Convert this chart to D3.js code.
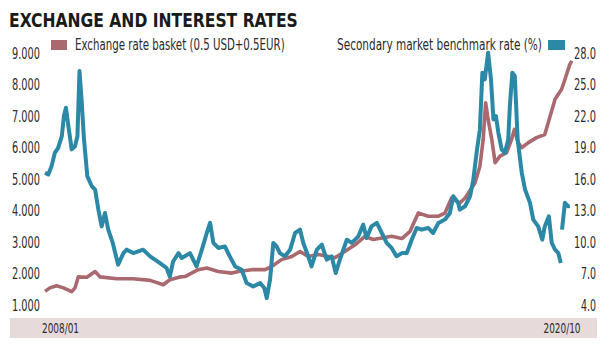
<!DOCTYPE html>
<html lang="en">
<head>
    <meta charset="UTF-8">
    <script src="https://cdn.jsdelivr.net/npm/d3@7"></script>
    <title>Exchange and interest rates</title>
    <style>
        body { margin: 0; background: #fff; }
        text { font-family: 'Liberation Sans Narrow', 'DejaVu Sans Condensed', 'Roboto Condensed', sans-serif; }
    </style>
</head>
<body>
<div id="chart"></div>
<script>
    // exchange rate basket (0.5 USD + 0.5 EUR), left axis
    const basketYears = [2008.00, 2008.12, 2008.28, 2008.45, 2008.65, 2008.73, 2008.81, 2009.02, 2009.22, 2009.34,
        2009.75, 2010.15, 2010.56, 2010.88, 2011.04, 2011.29, 2011.41, 2011.57, 2011.73, 2011.94,
        2012.22, 2012.55, 2012.71, 2013.03, 2013.36, 2013.52, 2013.76, 2014.01, 2014.21, 2014.41,
        2014.66, 2015.06, 2015.30, 2015.55, 2015.79, 2015.99, 2016.20, 2016.44, 2016.69, 2016.89,
        2017.09, 2017.33, 2017.58, 2017.74, 2017.90, 2018.10, 2018.23, 2018.47, 2018.59, 2018.67,
        2018.73, 2018.79, 2018.88, 2018.96, 2019.08, 2019.24, 2019.36, 2019.43, 2019.52, 2019.61,
        2019.77, 2019.97, 2020.17, 2020.30, 2020.42, 2020.58, 2020.66, 2020.78, 2020.83]
    const basketValues = [1.45, 1.56, 1.63, 1.56, 1.44, 1.56, 1.91, 1.90, 2.08, 1.91,
        1.85, 1.85, 1.80, 1.66, 1.82, 1.91, 1.92, 2.03, 2.14, 2.19,
        2.08, 2.03, 2.08, 2.14, 2.14, 2.24, 2.46, 2.56, 2.72, 2.56,
        2.62, 2.52, 2.72, 2.93, 3.20, 3.10, 3.15, 3.20, 3.13, 3.36,
        3.94, 3.84, 3.84, 3.94, 4.42, 4.26, 4.42, 4.90, 5.43, 6.28,
        7.45, 6.92, 6.28, 5.54, 5.75, 5.86, 6.28, 6.60, 6.18, 6.02,
        6.18, 6.34, 6.44, 7.02, 7.56, 7.88, 8.19, 8.67, 8.78]

    // secondary market benchmark rate (%), right axis; null = gap
    const rateYears = [2008.00, 2008.08, 2008.16, 2008.24, 2008.32, 2008.41, 2008.46, 2008.51, 2008.57, 2008.65,
        2008.73, 2008.79, 2008.84, 2008.89, 2008.95, 2009.03, 2009.14, 2009.22, 2009.30, 2009.38,
        2009.46, 2009.54, 2009.65, 2009.78, 2009.91, 2009.99, 2010.15, 2010.39, 2010.56, 2010.80,
        2010.96, 2011.04, 2011.12, 2011.25, 2011.33, 2011.53, 2011.69, 2011.82, 2011.94, 2012.02,
        2012.10, 2012.22, 2012.38, 2012.50, 2012.63, 2012.79, 2012.91, 2013.07, 2013.24, 2013.34,
        2013.40, 2013.48, 2013.56, 2013.64, 2013.72, 2013.84, 2013.97, 2014.09, 2014.21, 2014.29,
        2014.41, 2014.49, 2014.62, 2014.74, 2014.86, 2014.98, 2015.08, 2015.18, 2015.35, 2015.47,
        2015.63, 2015.75, 2015.83, 2015.95, 2016.08, 2016.20, 2016.32, 2016.44, 2016.56, 2016.69,
        2016.81, 2016.93, 2017.05, 2017.17, 2017.33, 2017.45, 2017.58, 2017.74, 2017.86, 2017.94,
        2018.06, 2018.10, 2018.23, 2018.35, 2018.43, 2018.52, 2018.59, 2018.65, 2018.71, 2018.79,
        2018.86, 2018.92, 2018.98, 2019.04, 2019.12, 2019.20, 2019.28, 2019.32, 2019.38, 2019.44,
        2019.51, 2019.61, 2019.69, 2019.81, 2019.89, 2020.01, 2020.11, 2020.17, 2020.27, 2020.34,
        2020.42, 2020.50, 2020.56, 2020.575, 2020.59, 2020.66, 2020.74, 2020.78]
    const rateValues = [16.66, 16.5, 17.3, 18.57, 19.05, 20.16, 22.07, 22.87, 21.1, 18.9,
        19.2, 20.16, 26.37, 23.67, 19.84, 16.34, 15.38, 15.06, 13.15, 11.55,
        12.83, 11.24, 9.97, 7.9, 9.0, 9.33, 9.0, 9.33, 8.69, 8.05,
        7.58, 6.77, 8.2, 9.0, 8.53, 9.0, 7.73, 9.33, 10.92, 11.88,
        9.97, 9.49, 9.64, 8.69, 7.73, 7.41, 6.14, 5.82, 6.14, 5.66,
        4.71, 6.46, 9.97, 9.64, 9.0, 8.69, 9.33, 10.92, 11.24, 9.97,
        8.69, 7.73, 9.33, 9.8, 8.37, 8.69, 7.1, 8.37, 10.28, 9.97,
        10.6, 11.72, 10.44, 11.55, 11.88, 10.92, 9.97, 9.49, 8.69, 9.0,
        9.0, 10.28, 11.4, 11.24, 11.4, 10.92, 11.88, 12.2, 12.83, 14.42,
        13.8, 13.15, 13.47, 14.42, 16.02, 18.89, 20.8, 26.22, 25.58, 28.13,
        25.58, 21.76, 22.07, 20.48, 18.89, 18.57, 19.84, 23.03, 26.22, 25.9,
        19.84, 16.66, 15.06, 13.8, 12.2, 11.55, 10.28, 11.55, 12.51, 9.97,
        9.33, 9.0, 8.05, null, 11.24, 13.8, 13.47, 13.5]

    const leftTicks = [1, 2, 3, 4, 5, 6, 7, 8, 9]
    const rightTicks = [4, 7, 10, 13, 16, 19, 22, 25, 28]
    const xLabels = [[2008.0, "2008/01"], [2020.833, "2020/10"]]

    const titleText = "EXCHANGE AND INTEREST RATES"
    const basketName = "Exchange rate basket (0.5 USD+0.5EUR)"
    const rateName = "Secondary market benchmark rate (%)"

    let width = 610
    let height = 351
    let red = "#a9696e"
    let blue = "#2b88a6"
    let textColor = "#2b2b2b"

    let svg = d3.select("#chart").append("svg")
        .attr("width", width)
        .attr("height", height)

    let x = d3.scaleLinear().domain([2008.0, 2020.833]).range([45, 572])
    let yLeft = d3.scaleLinear().domain([1, 9]).range([305.5, 54])
    let yRight = d3.scaleLinear().domain([4, 28]).range([305.5, 54])

    // squeeze a text horizontally to the wanted width (the print font is condensed)
    function squeeze(sel, tx, ty, w) {
        sel.each(function (d) {
            let n = this.getComputedTextLength()
            let px = typeof tx === "function" ? tx(d) : tx
            let py = typeof ty === "function" ? ty(d) : ty
            let pw = typeof w === "function" ? w(d) : w
            d3.select(this).attr("transform", "translate(" + px + "," + py + ") scale(" + (pw / n) + ",1)")
        })
    }

    // title
    svg.append("text")
        .attr("font-size", 20)
        .attr("font-weight", "bold")
        .attr("fill", "#1a1a1a")
        .text(titleText)
        .call(squeeze, 9, 27, 289)

    // bottom band
    svg.append("rect")
        .attr("x", 10)
        .attr("y", 318)
        .attr("width", 587)
        .attr("height", 20)
        .attr("fill", "#e6dadb")

    svg.selectAll(".xlabel")
        .data(xLabels)
        .join("text")
        .attr("class", "xlabel")
        .attr("text-anchor", "middle")
        .attr("font-size", 14)
        .attr("fill", textColor)
        .text(d => d[1])
        .call(squeeze, d => x(d[0]) + (d[0] < 2010 ? 15.5 : -10), 333, 37)

    // axes labels
    svg.selectAll(".ltick")
        .data(leftTicks)
        .join("text")
        .attr("class", "ltick")
        .attr("text-anchor", "end")
        .attr("font-size", 15)
        .attr("fill", textColor)
        .text(d => d3.format(".3f")(d))
        .call(squeeze, 40, d => yLeft(d) + 5, 28)

    svg.selectAll(".rtick")
        .data(rightTicks)
        .join("text")
        .attr("class", "rtick")
        .attr("text-anchor", "end")
        .attr("font-size", 15)
        .attr("fill", textColor)
        .text(d => d3.format(".1f")(d))
        .call(squeeze, 596, d => yRight(d) + 5, d => d >= 10 ? 22 : 15)

    // legend
    svg.append("rect").attr("x", 51).attr("y", 40).attr("width", 16).attr("height", 10).attr("fill", red)
    svg.append("text")
        .attr("font-size", 15)
        .attr("fill", textColor)
        .text(basketName)
        .call(squeeze, 75, 50, 210)
    svg.append("rect").attr("x", 548).attr("y", 40).attr("width", 17).attr("height", 10).attr("fill", blue)
    svg.append("text")
        .attr("font-size", 15)
        .attr("fill", textColor)
        .text(rateName)
        .call(squeeze, 337, 50, 205)

    // lines
    let basketLine = d3.line()
        .x((d, i) => x(basketYears[i]))
        .y(d => yLeft(d))
    svg.append("path")
        .datum(basketValues)
        .attr("d", basketLine)
        .attr("fill", "none")
        .attr("stroke", red)
        .attr("stroke-width", 3.6)
        .attr("stroke-linejoin", "round")

    let rateLine = d3.line()
        .defined(d => d !== null)
        .x((d, i) => x(rateYears[i]))
        .y(d => yRight(d))
    svg.append("path")
        .datum(rateValues)
        .attr("d", rateLine)
        .attr("fill", "none")
        .attr("stroke", blue)
        .attr("stroke-width", 4)
        .attr("stroke-linejoin", "round")
</script>
</body>
</html>
